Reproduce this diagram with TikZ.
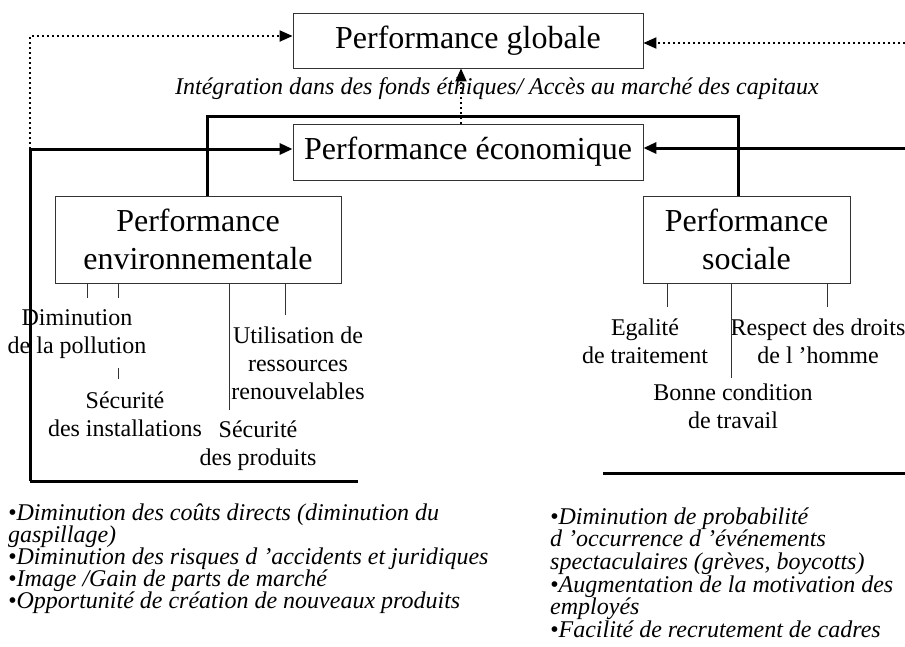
\documentclass[tikz,border=0pt]{standalone}
\usepackage{fontspec}
\setmainfont{Liberation Serif}
\usetikzlibrary{arrows.meta}
\tikzset{
  perfbox/.style={draw=black!80,line width=0.8pt,inner sep=0pt,align=center,font=\fontsize{32}{38}\selectfont},
  crit/.style={inner sep=0pt,align=center,font=\fontsize{24}{28}\selectfont},
  gainlist/.style={inner sep=0pt,align=left,anchor=north west,font=\fontsize{24}{22}\selectfont\itshape},
  heavy/.style={line width=3pt},
  lien/.style={line width=2pt,dash pattern=on 2pt off 3pt},
  tick/.style={line width=0.8pt,black!80},
  tip/.style={-{Triangle[length=13pt,width=11pt]}}
}
\begin{document}
\begin{tikzpicture}[x=1pt,y=-1pt]
\useasboundingbox (0,0) rectangle (905,646);
% boites
\node[perfbox,minimum width=350pt,minimum height=55pt] (glob) at (468,40.5) {Performance globale};
\node[perfbox,minimum width=350pt,minimum height=56pt] (eco) at (468,152) {Performance \'economique};
\node[perfbox,minimum width=286pt,minimum height=87pt] (env) at (198,239.5) {Performance\\environnementale};
\node[perfbox,minimum width=207pt,minimum height=87pt] (soc) at (746.5,239.5) {Performance\\sociale};
\node[inner sep=0pt,font=\fontsize{24}{28}\selectfont\itshape] (integ) at (497,89)
  {Int\'egration dans des fonds \'ethiques/ Acc\`es au march\'e des capitaux};
% criteres
\node[crit] (dimpol) at (77,334) {Diminution\\de la pollution};
\node[crit] (secinst) at (125,414) {S\'ecurit\'e\\des installations};
\node[crit] (utilres) at (298,363) {Utilisation de\\ressources\\renouvelables};
\node[crit] (secprod) at (258,446) {S\'ecurit\'e\\des produits};
\node[crit] (egal) at (645,341) {Egalit\'e\\de traitement};
\node[crit] (respect) at (818,341) {Respect des droits\\de l ’homme};
\node[crit] (bonne) at (733,406) {Bonne condition\\de travail};
\foreach \dx/\len in {-111/15,-80/15,31/127,87/32}
  \draw[tick] (env.south) ++(\dx,0) -- ++(0,\len);
\draw[tick] (118,368) -- (118,379);
\foreach \dx/\len in {-79.5/24,-15.5/95,80.5/24}
  \draw[tick] (soc.south) ++(\dx,0) -- ++(0,\len);
% gains
\node[gainlist] (listenv) at (8,503.5) {\textbullet Diminution des co\^uts directs (diminution du\\gaspillage)\\\textbullet Diminution des risques d ’accidents et juridiques\\\textbullet Image /Gain de parts de march\'e\\\textbullet Opportunit\'e de cr\'eation de nouveaux produits};
\node[gainlist,font=\fontsize{24}{22.6}\selectfont\itshape] (listsoc) at (550,507.5) {\textbullet Diminution de probabilit\'e\\d ’occurrence d ’\'ev\'enements\\spectaculaires (gr\`eves, boycotts)\\\textbullet Augmentation de la motivation des\\employ\'es\\\textbullet Facilit\'e de recrutement de cadres};
% liens
\coordinate (dl) at (30,36);
\coordinate (dr) at (905,43);
\coordinate (cl) at (30,149);
\coordinate (cr) at (905,148);
\coordinate (bl) at (30,481);
\coordinate (tl) at (207,116);
\coordinate (tr) at (738,116);
\draw[lien,tip] (cl) -- (dl) -- (dl -| glob.west);
\draw[lien,tip] (dr) -- (dr -| glob.east);
\draw[lien,tip] ([xshift=-7pt]eco.north) -- ([xshift=-7pt]glob.south);
\draw[heavy] (tl |- env.north) -- (tl) -- (tr) -- (tr |- soc.north);
\draw[heavy,tip] (bl) -- (cl) -- (cl -| eco.west);
\draw[heavy] (bl) -- (358,481);
\draw[heavy,tip] (cr) -- (cr -| eco.east);
\draw[heavy] (603,473) -- (905,473);
\end{tikzpicture}
\end{document}
